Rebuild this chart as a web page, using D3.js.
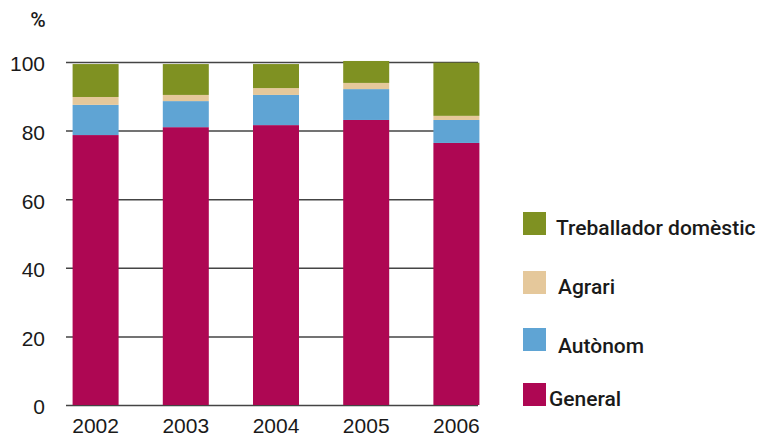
<!DOCTYPE html>
<html>
<head>
<meta charset="utf-8">
<script src="https://cdn.jsdelivr.net/npm/d3@7"></script>
<style>
  body { margin: 0; background: #fff; }
  svg { display: block; font-family: Roboto, "DejaVu Sans", sans-serif; font-weight: 500; }
</style>
</head>
<body>
<svg width="761" height="437"></svg>
<script>
// data (percent of each year)
const years = ['2002', '2003', '2004', '2005', '2006'];
const general = [78.7, 81.0, 81.6, 83.1, 76.4];
const autonom = [8.8, 7.6, 8.8, 9.0, 6.7];
const agrari = [2.3, 1.8, 2.0, 1.8, 1.2];
const domestic = [9.6, 9.0, 7.0, 6.4, 15.5];
const yTicks = [0, 20, 40, 60, 80, 100];

const seriesKeys = ['General', 'Autònom', 'Agrari', 'Treballador domèstic'];
const colors = ['#ae0753', '#5fa4d4', '#e5c89b', '#7f9122'];

// build rows for d3.stack
const rows = years.map((y, i) => ({
  year: y,
  'General': general[i],
  'Autònom': autonom[i],
  'Agrari': agrari[i],
  'Treballador domèstic': domestic[i]
}));

const svg = d3.select('svg');

const x = d3.scaleBand()
  .domain(years)
  .range([50.5, 501.5])
  .paddingInner(0.49)
  .paddingOuter(0.245);

const y = d3.scaleLinear()
  .domain([0, 100])
  .range([405, 62]);

const color = d3.scaleOrdinal().domain(seriesKeys).range(colors);

// gridlines + y labels
const yAxis = d3.axisLeft(y)
  .tickValues(yTicks)
  .tickSize(-(478 - 66))
  .tickPadding(21);

const gy = svg.append('g')
  .attr('transform', 'translate(66,0)')
  .call(yAxis);
gy.select('.domain').remove();
gy.selectAll('.tick line').attr('stroke', '#444').attr('stroke-width', 1.5);
gy.selectAll('.tick text')
  .attr('font-size', 21)
  .attr('fill', '#1a1a1a')
  .attr('dy', '0.42em');

// % label
svg.append('text')
  .attr('x', 38)
  .attr('y', 27)
  .attr('text-anchor', 'middle')
  .attr('font-size', 21)
  .attr('fill', '#1a1a1a')
  .text('%');

// stacked bars
const stacked = d3.stack().keys(seriesKeys)(rows);

svg.append('g')
  .selectAll('g')
  .data(stacked)
  .join('g')
  .attr('fill', d => color(d.key))
  .selectAll('rect')
  .data(d => d)
  .join('rect')
  .attr('x', d => x(d.data.year))
  .attr('width', x.bandwidth())
  .attr('y', d => y(d[1]))
  .attr('height', d => y(d[0]) - y(d[1]));

// x labels
const gx = svg.append('g')
  .attr('transform', 'translate(0,405)')
  .call(d3.axisBottom(x).tickSize(0).tickPadding(13));
gx.select('.domain').remove();
gx.selectAll('.tick text')
  .attr('font-size', 21)
  .attr('fill', '#1a1a1a');

// legend (top item is the top of the stack)
const legendY = [212, 271, 328, 383];
const legendTextX = [556, 558, 558, 549];
const legendKeys = seriesKeys.slice().reverse();

const legend = svg.append('g');
legend.selectAll('rect')
  .data(legendKeys)
  .join('rect')
  .attr('x', 523)
  .attr('y', (d, i) => legendY[i])
  .attr('width', 23)
  .attr('height', 23)
  .attr('fill', d => color(d));

legend.selectAll('text')
  .data(legendKeys)
  .join('text')
  .attr('x', (d, i) => legendTextX[i])
  .attr('y', (d, i) => legendY[i] + 23 + (i === 2 ? 2 : 0))
  .attr('font-size', 21)
  .attr('fill', '#1a1a1a')
  .text(d => d);
</script>
</body>
</html>
